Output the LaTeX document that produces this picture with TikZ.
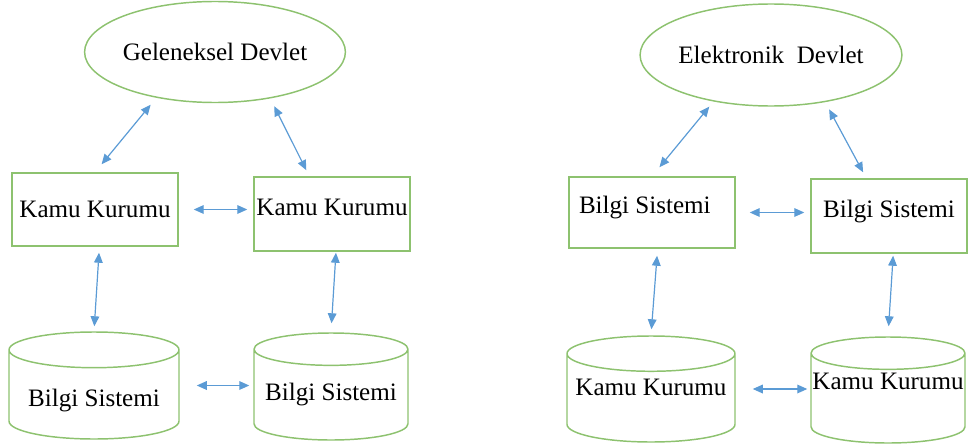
\documentclass[tikz,border=0pt]{standalone}
\usepackage{fontspec}
\setmainfont{Liberation Serif}
\usetikzlibrary{arrows.meta,shapes.geometric}
\definecolor{boxgreen}{HTML}{8DC26F}
\definecolor{linkblue}{HTML}{5B9BD5}
\tikzset{
    base/.style={draw=boxgreen,line width=1.1pt,inner sep=0pt,font=\fontsize{18.8}{22}\selectfont},
    devlet/.style={base,ellipse},
    kutu/.style={base,rectangle},
    silindir/.style={base,cylinder,shape border rotate=90,aspect=0.21,anchor=shape center,align=flush center},
    link/.style={draw=linkblue,line width=0.9pt,{Triangle[length=7.5pt,width=6.5pt]}-{Triangle[length=7.5pt,width=6.5pt]}}
}
\begin{document}
\begin{tikzpicture}[x=0.75pt,y=-0.75pt]
    \useasboundingbox (0,0) rectangle (975,446);
    \node[devlet,minimum width=162pt,minimum height=75.75pt](ge)at(215,52){Geleneksel Devlet};
    \node[kutu,minimum width=124.5pt,minimum height=54.75pt](kk1)at(95,209.5){Kamu Kurumu};
    \node[kutu,minimum width=117pt,minimum height=55.5pt,text depth=10pt](kk2)at(332,214){Kamu Kurumu};
    \node[silindir,text width=127.5pt,minimum height=80.25pt,text height=22pt](bs1)at(94,385.5){Bilgi Sistemi};
    \node[silindir,text width=115.5pt,minimum height=80.25pt](bs2)at(331,386.5){Bilgi Sistemi};
    \draw[link,shorten <=6.75pt,shorten >=7.8pt](ge.218)--(kk1.north);
    \draw[link,shorten <=6.5pt,shorten >=5.1pt](ge.320)--([xshift=-17pt]kk2.north);
    \draw[link,shorten <=11.25pt,shorten >=4.5pt](kk1.east)--(kk1.east-|kk2.west);
    \draw[link,shorten <=4.5pt,shorten >=3.75pt]([xshift=3.3pt]kk1.south)--(bs1.north);
    \draw[link,shorten <=0.75pt,shorten >=6.75pt]([xshift=3pt]kk2.south)--(bs2.north);
    \draw[link,shorten <=12.75pt,shorten >=3pt](bs1.east|-bs1.shape center)--(bs1.shape center-|bs2.west);
    \node[devlet,minimum width=161.25pt,minimum height=76.5pt](ed)at(771,55){Elektronik\ \ Devlet};
    \node[kutu,minimum width=124.5pt,minimum height=53.25pt,text width=109.5pt,inner xsep=7.5pt,align=flush left,text depth=11.5pt](bs3)at(652,212.5){Bilgi Sistemi};
    \node[kutu,minimum width=117pt,minimum height=55.5pt,text depth=11.5pt](bs4)at(889,216){Bilgi Sistemi};
    \node[silindir,text width=126pt,minimum height=79.5pt,text depth=16pt](kk3)at(651,389){Kamu Kurumu};
    \node[silindir,text width=115.5pt,minimum height=79.5pt,text depth=25pt](kk4)at(888,390){Kamu Kurumu};
    \draw[link,shorten <=5pt,shorten >=8.8pt](ed.219)--(bs3.north);
    \draw[link,shorten <=6.2pt,shorten >=5.1pt](ed.319)--([xshift=-17pt]bs4.north);
    \draw[link,shorten <=10.5pt,shorten >=4.5pt](bs3.east)--(bs3.east-|bs4.west);
    \draw[link,shorten <=5.25pt,shorten >=4.5pt]([xshift=4.2pt]bs3.south)--(kk3.north);
    \draw[link,shorten <=1.5pt,shorten >=7.5pt]([xshift=3.2pt]bs4.south)--(kk4.north);
    \draw[link,shorten <=12.75pt,shorten >=2.25pt](kk3.east|-kk3.shape center)--(kk3.shape center-|kk4.west);
\end{tikzpicture}
\end{document}
